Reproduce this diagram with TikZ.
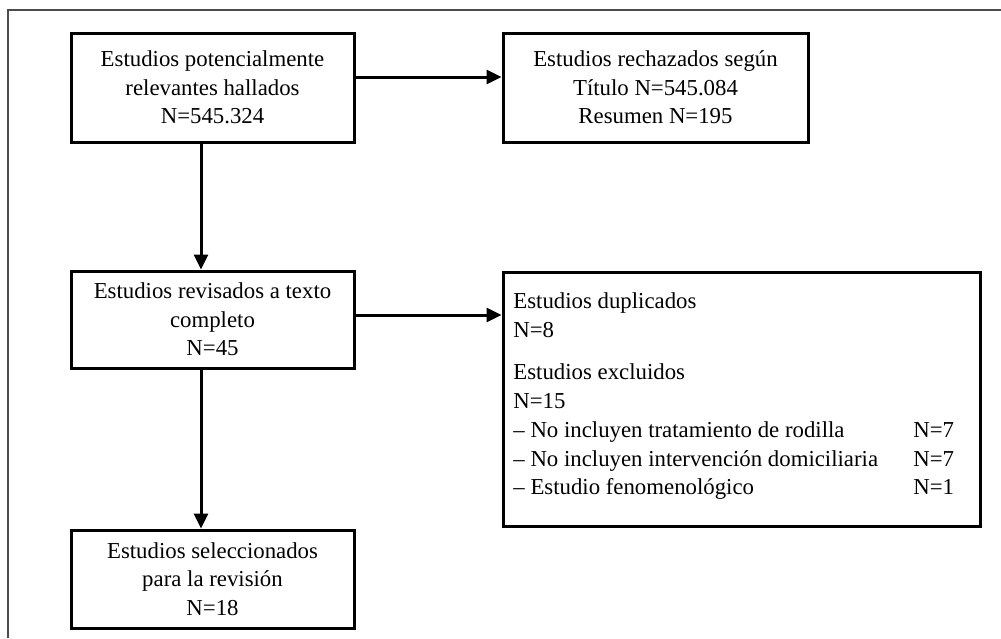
\documentclass[tikz,border=0pt]{standalone}
\usepackage{fontspec}
\setmainfont{Liberation Serif}
\usetikzlibrary{arrows.meta, positioning}

\begin{document}
\begin{tikzpicture}[
    x=0.5pt, y=-0.5pt,
    >={Triangle[length=7.5pt, width=7pt]},
    font=\fontsize{11.4}{14.25}\selectfont,
    stagebox/.style={draw, line width=1.5pt, align=center, inner sep=0pt},
    flow/.style={->, line width=1.5pt},
    listtext/.style={anchor=base west, inner sep=0pt},
]

%--- Canvas and outer frame ---
\useasboundingbox (0,0) rectangle (1001,638);
\draw[gray!60!black, line width=1pt] (8,638) -- (8,10) -- (1001,10);

%============================================================
% Left column: main flow
%============================================================
\node[stagebox, minimum width=141.5pt, minimum height=54.5pt] (hallados) at (212.5,87.5)
    {Estudios potencialmente\\relevantes hallados\\N=545.324};
\node[stagebox, minimum width=141.5pt, minimum height=48.5pt] (revisados) at (212.5,319.5)
    {Estudios revisados a texto\\completo\\N=45};
\node[stagebox, minimum width=141.5pt, minimum height=49pt] (seleccionados) at (212.5,579)
    {Estudios seleccionados\\para la revisión\\N=18};

%============================================================
% Right column: rejected / excluded
%============================================================
\node[stagebox, minimum width=152.5pt, minimum height=54.5pt] (rechazados) at (655.5,87.5)
    {Estudios rechazados según\\Título N=545.084\\Resumen N=195};
\node[stagebox, minimum width=238.5pt, minimum height=127pt] (excluidos) at (741.5,399) {};

% list inside the exclusion box
\node[listtext] (dupl)    at (513,308) {Estudios duplicados};
\node[listtext] (duplN)   at (513,337) {N=8};
\node[listtext] (excl)    at (513,379) {Estudios excluidos};
\node[listtext] (exclN)   at (513,408) {N=15};
\node[listtext] (rodilla) at (513,437) {– No incluyen tratamiento de rodilla};
\node[listtext] (domic)   at (513,466) {– No incluyen intervención domiciliaria};
\node[listtext] (fenom)   at (513,494) {– Estudio fenomenológico};
\node[listtext] (rodillaN) at (913,437) {N=7};
\node[listtext] (domicN)   at (913,466) {N=7};
\node[listtext] (fenomN)   at (913,494) {N=1};

%============================================================
% Connectors
%============================================================
\draw[flow] (hallados.east |- 0,77) -- (rechazados.west |- 0,77);
\draw[flow] (revisados.east |- 0,315) -- (excluidos.west |- 0,315);
\draw[flow] (hallados.south -| 201,0) -- (revisados.north -| 201,0);
\draw[flow] (revisados.south -| 201,0) -- (seleccionados.north -| 201,0);

\end{tikzpicture}
\end{document}
